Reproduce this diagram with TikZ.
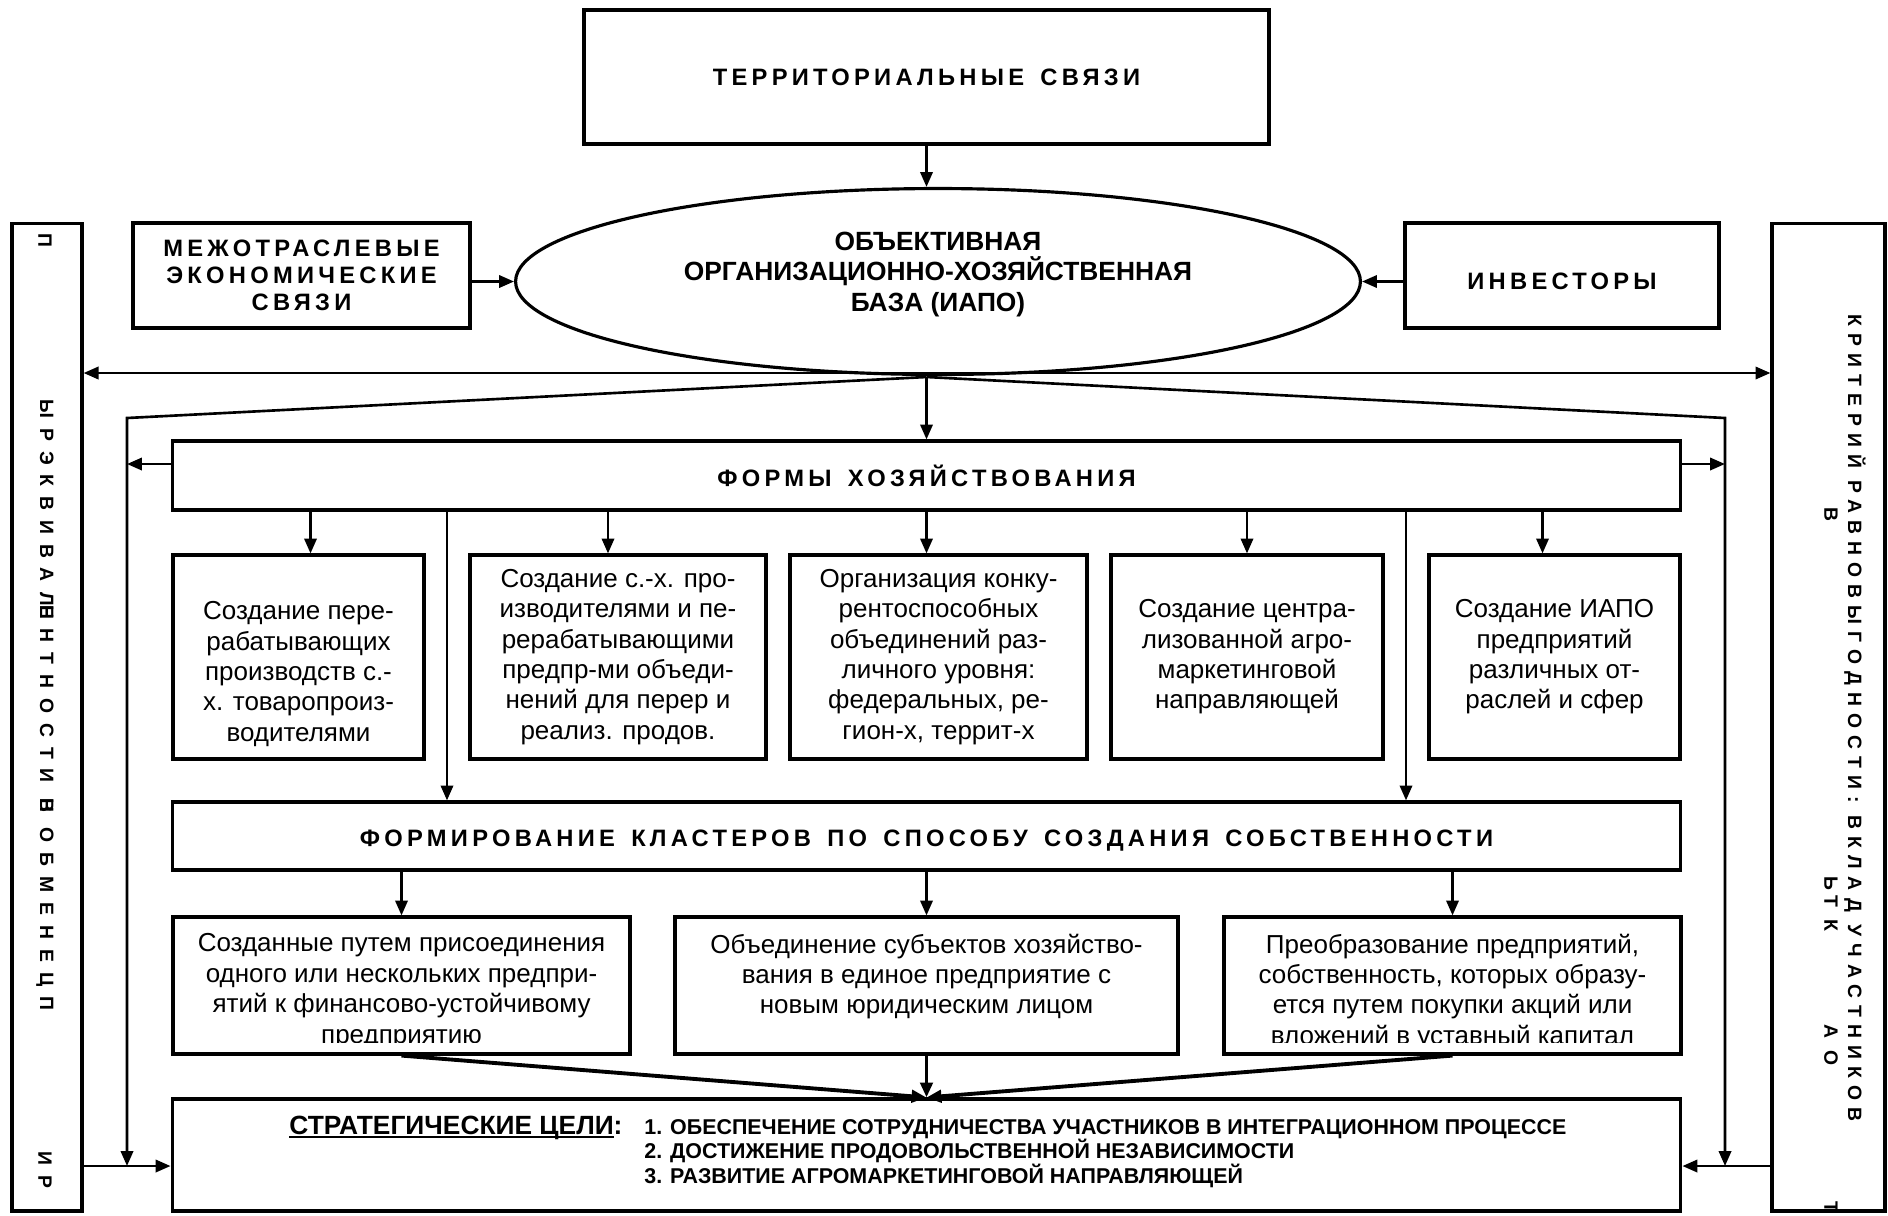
\documentclass[tikz,border=0pt]{standalone}
\usepackage{fontspec}
\setmainfont{Liberation Sans}
\newfontfamily\spacedfont[LetterSpace=18, WordSpace=1.5]{Liberation Sans}
\newfontfamily\leftsidefont[LetterSpace=52]{Liberation Sans}
\newfontfamily\rightsidefont[LetterSpace=37]{Liberation Sans}
\usetikzlibrary{shapes.geometric, arrows.meta, calc}

\newcommand\goalline[1]{\setbox0\hbox{#1}\rlap{\rule[-2.2pt]{\wd0}{1.3pt}}\box0}

\tikzset{
  box/.style={draw, line width=1.8pt, inner sep=0pt, align=center},
  headtext/.style={font={\spacedfont\bfseries\fontsize{13.5}{15.5}\selectfont}},
  basetext/.style={inner sep=0pt, align=center, font={\bfseries\fontsize{15}{17.6}\selectfont}},
  bodytext/.style={inner sep=0pt, align=center, font={\fontsize{14.8}{17.3}\selectfont}},
  goaltext/.style={inner sep=0pt, align=left, font={\bfseries\fontsize{12.2}{14}\selectfont}},
  leftside/.style={inner sep=0pt, rotate=-90, font={\leftsidefont\bfseries\fontsize{11}{13}\selectfont}},
  rightside/.style={inner sep=0pt, rotate=-90, font={\rightsidefont\bfseries\fontsize{11}{13}\selectfont}},
  link/.style={->, line width=1.5pt},
  heavylink/.style={->, line width=2.2pt}
}

\begin{document}
\begin{tikzpicture}[x=0.02cm, y=-0.02cm, >={Triangle[length=8.5pt, width=7pt]}]
    \useasboundingbox (0,0) rectangle (1888,1215);

    % Top level
    \node[box, headtext, minimum width=13.7cm, minimum height=2.68cm] (terr) at (926.5,77) {ТЕРРИТОРИАЛЬНЫЕ СВЯЗИ};
    \node[draw, ellipse, line width=1.8pt, minimum width=16.9cm, minimum height=3.72cm] (base) at (938,281.5) {};
    \node[basetext] (basename) at ($(base.center)+(0,-7)$)
          {ОБЪЕКТИВНАЯ\\ОРГАНИЗАЦИОННО-ХОЗЯЙСТВЕННАЯ\\БАЗА (ИАПО)};
    \node[box, headtext, minimum width=6.74cm, minimum height=2.1cm] (inter) at (301.5,275.5)
          {МЕЖОТРАСЛЕВЫЕ\\ЭКОНОМИЧЕСКИЕ\\СВЯЗИ};
    \node[box, headtext, minimum width=6.28cm, minimum height=2.1cm] (invest) at (1562,275.5) {};
    \node[inner sep=0pt, headtext] (investname) at ($(invest.center)+(0,6)$) {ИНВЕСТОРЫ};

    % Side strips
    \node[box, minimum width=1.4cm, minimum height=19.76cm] (left) at (47,717) {};
    \node[box, minimum width=2.26cm, minimum height=19.76cm] (right) at (1828.5,717) {};
    \node[leftside] (lefttop) at (45,240) {П};
    \node[leftside] (lefttext) at (45,705) {ЫРЭКВИВАЛ\rlap{Н}ЕНТНОСТИ \rlap{Н}В ОБМЕНЕЦП};
    \node[leftside] (leftbottom) at (45,1170) {ИР};
    \node[rightside] (righttext) at (1855,718) {КРИТЕРИЙ РАВНОВЫГОДНОСТИ: ВКЛАД УЧАСТНИКОВ};
    \node[rightside] (rightv) at (1831,514) {В};
    \node[rightside] (righttk) at (1831,904) {ЬТ К};
    \node[rightside] (rightao) at (1831,1045) {А О};
    \node[rightside] (rightt) at (1831,1207) {Т};

    % Forms of management
    \node[box, headtext, minimum width=30.18cm, minimum height=1.38cm] (forms) at (926.5,475.5) {ФОРМЫ ХОЗЯЙСТВОВАНИЯ};
    \node[box, minimum width=5.02cm, minimum height=4.08cm] (f1) at (298.5,657) {};
    \node[bodytext] (f1text) at ($(f1.center)+(0,17)$)
          {Создание пере-\\рабатывающих\\производств с.-\\х. товаропроиз-\\водителями};
    \node[box, bodytext, minimum width=5.92cm, minimum height=4.08cm] (f2) at (618,657)
          {Создание с.-х. про-\\изводителями и пе-\\рерабатывающими\\предпр-ми объеди-\\нений для перер и\\реализ. продов.};
    \node[box, bodytext, minimum width=5.94cm, minimum height=4.08cm] (f3) at (938.5,657)
          {Организация конку-\\рентоспособных\\объединений раз-\\личного уровня:\\федеральных, ре-\\гион-х, террит-х};
    \node[box, bodytext, minimum width=5.44cm, minimum height=4.08cm] (f4) at (1247,657)
          {Создание центра-\\лизованной агро-\\маркетинговой\\направляющей};
    \node[box, bodytext, minimum width=5.02cm, minimum height=4.08cm] (f5) at (1554.5,657)
          {Создание ИАПО\\предприятий\\различных от-\\раслей и сфер};

    % Clusters
    \node[box, headtext, minimum width=30.18cm, minimum height=1.36cm] (clus) at (926.5,836) {};
    \node[inner sep=0pt, headtext] (clusname) at ($(clus.center)+(0,5)$)
          {ФОРМИРОВАНИЕ КЛАСТЕРОВ ПО СПОСОБУ СОЗДАНИЯ СОБСТВЕННОСТИ};
    \node[box, minimum width=9.14cm, minimum height=2.74cm] (ka) at (401.5,985.5) {};
    \node[box, minimum width=10.06cm, minimum height=2.74cm] (kb) at (926.5,985.5) {};
    \node[box, minimum width=9.14cm, minimum height=2.74cm] (kc) at (1452.5,985.5) {};
    \begin{scope}
        \clip (ka.north west) rectangle ($(kc.south east)+(0,-13)$);
        \node[bodytext, anchor=north] (katext) at ($(ka.north)+(0,18)$)
              {Созданные путем присоединения\\одного или нескольких предпри-\\ятий к финансово-устойчивому\\предприятию};
        \node[bodytext, anchor=north] (kbtext) at ($(kb.north)+(0,18)$)
              {Объединение субъектов хозяйство-\\вания в единое предприятие с\\новым юридическим лицом};
        \node[bodytext, anchor=north] (kctext) at ($(kc.north)+(0,18)$)
              {Преобразование предприятий,\\собственность, которых образу-\\ется путем покупки акций или\\вложений в уставный капитал};
    \end{scope}

    % Strategic goals
    \node[box, minimum width=30.18cm, minimum height=2.24cm] (goals) at (926.5,1155) {};
    \node[anchor=base west, inner sep=0pt, font={\bfseries\fontsize{15}{17}\selectfont}] (goaltitle) at (289,1134)
          {\goalline{СТРАТЕГИЧЕСКИЕ ЦЕЛИ}:};
    \node[goaltext, anchor=north west] (goallist) at (644,1119)
          {1. ОБЕСПЕЧЕНИЕ СОТРУДНИЧЕСТВА УЧАСТНИКОВ В ИНТЕГРАЦИОННОМ ПРОЦЕССЕ\\
           2. ДОСТИЖЕНИЕ ПРОДОВОЛЬСТВЕННОЙ НЕЗАВИСИМОСТИ\\
           3. РАЗВИТИЕ АГРОМАРКЕТИНГОВОЙ НАПРАВЛЯЮЩЕЙ};

    % Junction points
    \coordinate (hub) at (926.5,373);
    \coordinate (fork) at (926.5,377);
    \coordinate (lc) at (127,418);
    \coordinate (rc) at (1725,418);
    \coordinate (fy) at (0,464);
    \coordinate (sy) at (0,1166);
    \coordinate (lv) at (447,0);
    \coordinate (rv) at (1406,0);

    % Upper connectors
    \draw[link] (terr.south) -- (terr.south |- base.north);
    \draw[link] (inter.east |- base.west) -- (base.west);
    \draw[link] (invest.west |- base.east) -- (base.east);
    \draw[link, <->] (left.east |- hub) -- (right.west |- hub);
    \draw[link] (fork) -- (forms.north);
    \draw[link] (fork) -- (lc) -- (lc |- sy);
    \draw[link] (fork) -- (rc) -- (rc |- sy);
    \draw[link] (forms.west |- fy) -- (lc |- fy);
    \draw[link] (forms.east |- fy) -- (rc |- fy);

    % Lower connectors
    \foreach \b/\dx in {f1/12, f2/-10, f3/-12, f4/0, f5/-12}
        \draw[link] ($(forms.south -| \b.north)+(\dx,0)$) -- ($(\b.north)+(\dx,0)$);
    \draw[link] (forms.south -| lv) -- (clus.north -| lv);
    \draw[link] (forms.south -| rv) -- (clus.north -| rv);
    \foreach \k in {ka,kb,kc}
        \draw[link] (clus.south -| \k.north) -- (\k.north);
    \foreach \k in {ka,kb,kc}
        \draw[heavylink] (\k.south) -- (goals.north);
    \draw[link] (left.east |- sy) -- (goals.west |- sy);
    \draw[link] (right.west |- sy) -- (goals.east |- sy);
\end{tikzpicture}
\end{document}
